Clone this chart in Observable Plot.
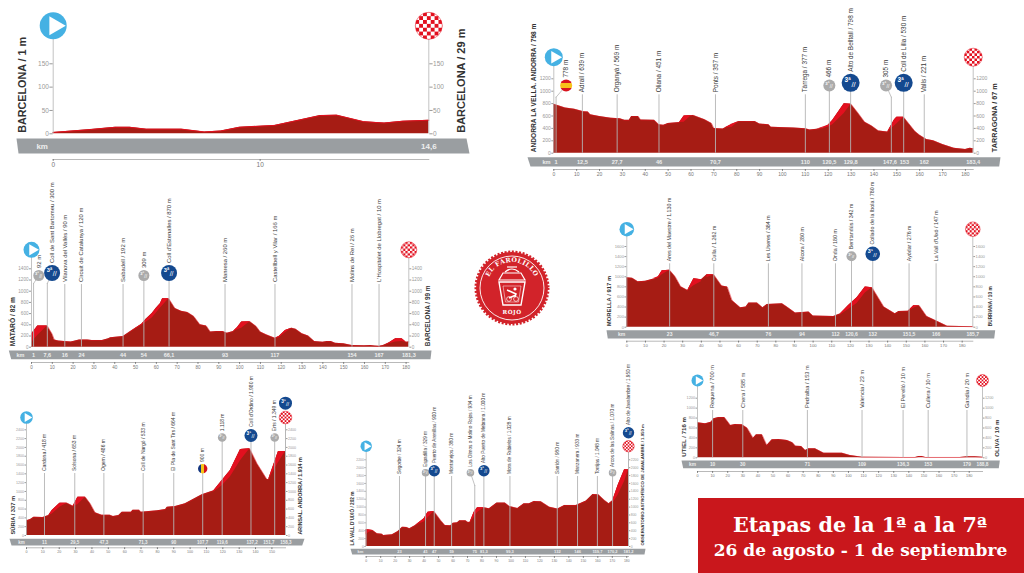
<!DOCTYPE html>
<html lang="es"><head><meta charset="utf-8">
<script src="https://cdn.jsdelivr.net/npm/d3@7"></script>
<script src="https://cdn.jsdelivr.net/npm/@observablehq/plot@0.6"></script>
<style>
html,body{margin:0;padding:0;background:#fff;overflow:hidden}
#page{position:relative;width:1024px;height:573px;overflow:hidden;background:#fff}
#page svg.p{position:absolute}
#banner{position:absolute;left:698px;top:498px;width:326px;height:75px;background:#c9171c;color:#fff;text-align:center;font-family:"DejaVu Serif",serif;font-weight:bold}
#banner .a{position:absolute;left:0;right:2px;top:14px;font-size:20.7px;line-height:26px;white-space:nowrap}
#banner .b{position:absolute;left:0;right:1px;top:41px;font-size:17px;line-height:22px;white-space:nowrap}
</style></head><body>
<svg id="defs" width="0" height="0" style="position:absolute"><defs>
<pattern id="chk" patternUnits="objectBoundingBox" patternContentUnits="objectBoundingBox" width=".2857" height=".2857">
<rect width=".2857" height=".2857" fill="#fff"/><rect width=".143" height=".143" fill="#e2101f"/><rect x=".143" y=".143" width=".143" height=".143" fill="#e2101f"/></pattern>
<linearGradient id="es" x1="0" y1="0" x2="0" y2="1"><stop offset=".27" stop-color="#d8141e"/><stop offset=".27" stop-color="#f7c21a"/><stop offset=".73" stop-color="#f7c21a"/><stop offset=".73" stop-color="#d8141e"/></linearGradient>
<linearGradient id="ad" x1="0" y1="0" x2="1" y2="0"><stop offset=".34" stop-color="#14357f"/><stop offset=".34" stop-color="#f5c518"/><stop offset=".66" stop-color="#f5c518"/><stop offset=".66" stop-color="#d5121e"/></linearGradient>
</defs></svg>
<div id="page">
<div id="banner"><div class="a">Etapas de la 1ª a la 7ª</div><div class="b">26 de agosto - 1 de septiembre</div></div>
</div>
<script>
// ---------- Barcelona - Barcelona
const s1Km=[0,1.8,3,3.7,4.5,6.2,7.3,8.1,9,10.7,12.9,13.7,15,16,16.9,18.15];
const s1Elev=[3,9,14,14,10,10,4,6,14,18,39,40,26,23,27,29];
const s1Climbs=[];
const s1Places=[];
const s1BandKm=[18.15], s1BandText=["14,6"];
const s1XTicks=[0,10], s1YTicks=[0,50,100,150];
// ---------- Andorra - Tarragona
const s2Km=[0,5,9,13,15,16,20,25,29,31,33,34,37,38,44,46,48,50,55,57,61,66,69,70,74,75,79,81,88,90,94,95,105,110,112,115,118,120,122,127,130,133,136,139,142,146,149,150,153,158,160,163,166,170,175,180,182,183.4];
const s2Elev=[790,730,710,670,665,620,590,565,555,530,530,590,590,535,530,460,450,480,495,600,610,540,480,400,390,410,480,510,510,470,460,420,405,395,375,385,410,450,530,796,790,650,500,440,360,340,540,580,580,350,290,220,200,140,80,60,80,70];
const s2Climbs=[[0,55,495,495],[0,57,500,600],[0,60,600,608],[1,75,410,410],[1,78,420,470],[1,81,510,510],[2,115,385,385],[2,120,420,450],[2,122,460,530],[2,127,640,796],[2,130,790,790],[3,146,340,340],[3,149,440,540],[3,150,470,580],[3,153,580,580]];
const s2Places=[[1,"778 m","flag",5.4,"es"],[12.5,"Adrall / 639 m","plain"],[27.7,"Organyà / 569 m","plain"],[46,"Oliana / 451 m","plain"],[70.7,"Ponts / 357 m","plain"],[110,"Tàrrega / 377 m","plain"],[120.5,"466 m","gray"],[129.8,"Alto de Belltall / 798 m","blue"],[147.6,"305 m","gray",145.3],[153,"Coll de Lilla / 530 m","blue"],[162,"Valls / 221 m","plain"]];
const s2BandKm=[1,12.5,27.7,46,70.7,110,120.5,129.8,147,153.3,162,183.4];
const s2BandText=["1","12,5","27,7","46","70,7","110","120,5","129,8","147,6","153","162","183,4"];
const s2XTicks=d3.range(0,181,10), s2YTicks=[0,200,400,600,800,1000,1200];
// ---------- Mataró - Barcelona
const s3Km=[0,3,7.6,10,11,13,16,19,20,23,27,29,34,37,38,44,46,50,53,55,58,60,62,63,66,69,72,75,78,81,84,86,89,92,94,97,99,101,105,108,110,113,117,119,122,125,127,130,133,136,140,142,144,146,150,154,160,163,165,167,169,172,175,178,180,181.3];
const s3Elev=[230,380,380,230,130,110,100,95,100,130,130,120,120,150,170,190,240,340,410,500,600,700,780,865,865,690,640,620,550,400,380,270,280,280,250,280,350,450,455,370,270,220,160,190,300,340,320,240,200,100,90,100,100,70,60,30,25,30,20,15,30,80,150,150,90,95];
const s3Climbs=[[0,0,80,230],[0,3,210,380],[0,7.6,380,380],[1,46,240,240],[1,53,390,410],[1,58,520,600],[1,62,700,780],[1,63,740,865],[1,66,865,865],[2,97,280,280],[2,99,310,350],[2,101,340,450],[2,105,455,455],[3,117,160,160],[3,119,170,190],[3,122,260,300],[3,125,340,340],[4,170,35,35],[4,172,60,80],[4,175,95,150],[4,178,100,150],[4,180,90,90]];
const s3Places=[[1,"92 m","gray",3.5],[7.6,"Coll de Sant Bartomeu / 300 m","blue",9.9],[16,"Vilanova del Vallès / 90 m","plain"],[24,"Circuit de Catalunya / 120 m","plain"],[44,"Sabadell / 192 m","plain"],[54,"309 m","gray"],[66.1,"Coll d'Estenalles / 870 m","blue"],[93,"Manresa / 260 m","plain"],[117,"Castellbell y Vilar / 166 m","plain"],[154,"Molins de Rei / 26 m","plain"],[167,"L'Hospitalet de Llobregat / 10 m","plain"]];
const s3BandKm=[1,7.6,16,24,44,54,66.1,93,117,154,167,181.3];
const s3BandText=["1","7,6","16","24","44","54","66,1","93","117","154","167","181,3"];
const s3XTicks=d3.range(0,181,10), s3YTicks=[0,200,400,600,800,1000,1200,1400];
// ---------- Morella - Burriana
const s4Km=[0,3,6,10,15,17,19,23,26,29,32.7,36,40,43,46.7,51,54,56.5,61,64,65.5,70,73,75.3,83.4,86,90.5,97.7,100,111,114.7,119,123.6,128,131.7,138,144,146,151,154,157,161,165.6,172,185.7];
const s4Elev=[980,970,900,910,960,1000,1120,1130,1000,800,730,960,943,1040,1040,816,797,530,385,400,478,478,385,450,465,400,280,300,220,212,265,430,585,797,784,400,265,312,318,425,425,212,133,20,10];
const s4Climbs=[[0,14,960,960],[0,17,970,1000],[0,19,1040,1120],[0,23,1130,1130],[1,32.7,730,730],[1,36,820,960],[1,40,900,943],[2,43,980,1040],[2,46.7,1040,1040],[3,114.7,240,265],[3,119,350,430],[3,123.6,470,585],[3,128,680,797],[3,131.7,784,784],[4,151,318,318],[4,154,375,425],[4,157,425,425]];
const s4Places=[[23,"Ares del Maestre / 1.130 m","plain"],[46.7,"Culla / 1.262 m","plain"],[76,"Les Useres / 384 m","plain"],[94,"Alcora / 280 m","plain"],[112,"Onda / 180 m","plain"],[120.6,"Benitandús / 342 m","gray"],[132,"Collado de la Ibola / 780 m","blue"],[151.5,"Ayódar / 276 m","plain"],[166,"La Vall d'Uixó / 147 m","plain"]];
const s4BandKm=[23,46.7,76,94,112,120.6,132,151.5,166,185.7];
const s4BandText=["23","46,7","76","94","112","120,6","132","151,5","166","185,7"];
const s4XTicks=d3.range(0,181,10), s4YTicks=[0,200,400,600,800,1000,1200,1400,1600];
// ---------- Súria - Arinsal
const s5Km=[0,2.4,4.5,10,13.6,15.7,20.4,24.8,28.5,31.4,36,39,42,46,51,53,56.4,58.4,64,65,69,70,80,85,86,91,97,107.3,114.5,119.6,124.6,130.8,136.5,141,147,148,154,158.3];
const s5Elev=[333,363,416,409,454,568,734,734,666,870,870,719,515,462,462,431,454,530,530,575,575,530,560,590,643,659,719,924,1014,1249,1476,1953,1968,1628,1272,1272,1908,1908];
const s5Climbs=[[0,13.6,454,454],[0,15.7,490,568],[0,20.4,640,734],[0,24.8,734,734],[1,28.5,666,666],[1,31.4,700,870],[1,36,870,870],[2,114.5,990,1014],[2,119.6,1130,1249],[2,124.6,1330,1476],[2,130.8,1700,1953],[2,136.5,1968,1968],[3,148,1272,1272],[3,154,1650,1908],[3,158.3,1908,1908]];
const s5Places=[[11,"Cardona / 418 m","plain"],[29.5,"Solsona / 653 m","plain"],[47.3,"Ogern / 486 m","plain"],[71.3,"Coll de Nargó / 533 m","plain"],[90,"El Pla de Sant Tirs / 664 m","plain"],[107.7,"900 m","flag",null,"ad"],[119.6,"1.118 m","gray"],[137.2,"Coll d'Ordino / 1.980 m","blue"],[151.7,"Erts / 1.349 m","gray"],[158.3,"","top"]];
const s5BandKm=[11,29.5,47.3,71.3,90,107.7,119.6,137.9,148.2,158.6];
const s5BandText=["11","29,5","47,3","71,3","90","107,7","119,6","137,2","151,7","158,3"];
const s5XTicks=d3.range(0,151,10), s5YTicks=d3.range(0,2401,200);
// ---------- La Vall d'Uixó - Javalambre
const s6Km=[0,4.6,7.6,11,12,18,22,25,28,30,34,40,42.7,46.9,51.5,54.5,58.4,60,63,64.6,68.8,70.4,71.8,74.6,76.9,81.5,85,90.3,96,99,104.6,109,112.7,116,120.8,126.6,132.3,137,145,152,156.6,160.5,164.7,167.7,170.4,174,178.5,181.2];
const s6Elev=[423,406,322,313,280,296,381,491,483,449,533,703,872,889,660,533,525,593,601,652,652,610,618,872,983,983,957,1101,1101,1016,966,1084,1084,1143,1135,999,949,1042,1042,1152,1321,1313,1169,1084,1169,1550,1948,1948];
const s6Climbs=[[0,0,290,423],[0,1.5,350,423],[0,4.6,406,406],[1,34,533,533],[1,40,620,703],[1,42.7,730,872],[1,46.9,889,889],[2,71.8,618,618],[2,74.6,730,872],[2,76.9,860,983],[2,81.5,983,983],[3,170.4,1100,1169],[3,174,1300,1550],[3,178.5,1650,1948],[3,181.2,1948,1948]];
const s6Places=[[23,"Segorbe / 324 m","plain"],[41,"Espadilla / 329 m","gray"],[47,"Puerto de Arenillas / 900 m","blue"],[59,"Montanejos / 380 m","plain"],[75,"Los Olmos o Molino Rojos / 934 m","gray",72],[81.3,"Alto Puerto de Mebrana / 1.000 m","blue"],[99.3,"Mora de Rubielos / 1.028 m","plain"],[132,"Sarrión / 980 m","plain"],[146,"Manzanera / 933 m","plain"],[159.7,"Torrijas / 1.048 m","plain"],[170.2,"Arcos de las Salinas / 1.070 m","gray"],[181.2,"Alto de Javalambre / 1.950 m","top"]];
const s6BandKm=[23,41,47,59,75,81.3,99.3,132,146,159.7,170.2,181.2];
const s6BandText=["23","41","47","59","75","81,3","99,3","132","146","159,7","170,2","181,2"];
const s6XTicks=d3.range(0,181,10), s6YTicks=d3.range(0,2201,200);
// ---------- Utiel - Oliva
const s7Km=[0,5.3,9,10.8,14,17.9,21.9,25,29.6,33,36.9,39,42.8,46,49.4,53.9,59.4,63,65,68.9,71.5,73.7,78,83.7,95.8,101,109,136.6,144.4,146.6,148.8,151,174,178.6,184,188.8];
const s7Elev=[705,684,718,785,812,812,651,671,664,597,396,463,463,248,362,369,349,302,235,228,148,181,181,94,94,47,13,7,7,27,27,7,7,20,20,10];
const s7Climbs=[];
const s7Places=[[10,"Requena / 700 m","plain"],[30,"Chera / 585 m","plain"],[72.8,"Pedralba / 153 m","plain"],[109,"Valencia / 23 m","plain"],[136.2,"El Perelló / 10 m","plain"],[152.8,"Cullera / 10 m","plain"],[178.5,"Gandia / 20 m","plain"]];
const s7BandKm=[10,30,72.8,109,136.2,152.8,178.5,188.8];
const s7BandText=["10","30","71","109","136,3","153","179","188,8"];
const s7XTicks=d3.range(0,181,10), s7YTicks=[0,200,400,600,800,1000,1200];

const NARROW='"Liberation Sans Narrow","Liberation Sans",sans-serif';
const DARK="#a61c14", BRIGHT="#e2101f", GRAY="#9a9ea1", STEM="#b4b4b4", BLUE="#14498f", ICON="#ababab", SKY="#45b1e3";
// font size that gives a side label its length in the picture
const probe=document.createElementNS("http://www.w3.org/2000/svg","text");
probe.setAttribute("font-family",NARROW);probe.setAttribute("font-weight","bold");probe.setAttribute("visibility","hidden");
document.getElementById("defs").appendChild(probe);
function fitSize(text,len){
  probe.textContent=text;
  let s=len/text.length*2;
  for(let i=0;i<8;i++){probe.setAttribute("font-size",s);const w=probe.getComputedTextLength();if(w>0)s*=Math.pow(len/w,.7);}
  return s*1.17;
}

function stage(c){
  const {L,T,R,B,x0,x1,end,y0,yTop,yMax,km,elev,climbs,places,bandKm,bandText,xTicks,yTicks,startName,endName}=c;
  const X=px=>(px-x0)/(x1-x0)*end, Y=px=>(y0-px)/(y0-yTop)*yMax;
  const pxKm=(x1-x0)/end;
  const rows=km.map((k,i)=>({k,e:elev[i]}));
  const patch=climbs.map(([g,k,lo,hi])=>({g,k,lo,hi}));
  const [bTL,bBL,bTR,bBR]=c.bandX;
  const band=[[bTL,c.bandY[0]],[bTR,c.bandY[0]],[bBR,c.bandY[1]],[bBL,c.bandY[1]]].map(([a,b])=>({a:X(a),b:Y(b)}));
  const pl=places.map(([k,name,kind,dotK,flag])=>({k,name,kind,dotK:dotK??k,flag}));
  const st=k=>pl.filter(p=>p.kind===k);
  const cy=p=>p.kind==="gray"?c.grayCy:p.kind==="blue"?c.blueCy:p.kind==="flag"?c.flagCy:p.kind==="top"?c.topCy:null;
  const rad=p=>p.kind==="gray"?c.grayR:p.kind==="blue"||p.kind==="top"?c.blueR:p.kind==="flag"?c.flagR:0;
  const lblBottom=p=>p.kind==="plain"?c.stemTop-2.5:cy(p)-rad(p)-2;
  const stemTopOf=p=>p.kind==="top"?c.iconCy:p.dotK!==p.k?c.stemKnee:(cy(p)??c.stemTop);
  const elbows=pl.filter(p=>p.dotK!==p.k).flatMap(p=>[{p:p.k,x:p.k,y:Y(c.stemKnee)},{p:p.k,x:p.dotK,y:Y(cy(p))}]);
  const fs=c.placeSize, base={fontFamily:NARROW,stroke:"none"};
  const dotsOf=(kinds)=>pl.filter(p=>kinds.includes(p.kind));
  const hills=dotsOf(["gray","blue","top"]);
  const marks=[
    Plot.line(band,{x:"a",y:"b",fill:GRAY,stroke:"none"}),
    Plot.frame({anchor:"bottom",stroke:"#9b9b9b",strokeWidth:.7}),
    Plot.areaY(rows,{x:"k",y:"e",fill:DARK}),
    Plot.areaY(patch,{x:"k",y1:"lo",y2:"hi",z:"g",fill:BRIGHT}),
    Plot.lineY(rows,{x:"k",y:"e",stroke:BRIGHT,strokeWidth:c.rim}),
    Plot.ruleX([0,end],{x:d=>d,y1:0,y2:Y(c.iconCy),stroke:STEM,strokeWidth:.8}),
    Plot.ruleX(pl,{x:"k",y1:0,y2:p=>Y(stemTopOf(p)),stroke:STEM,strokeWidth:.9}),
    Plot.line(elbows,{x:"x",y:"y",z:"p",stroke:STEM,strokeWidth:.8}),
    Plot.dot(st("gray"),{x:"dotK",y:()=>Y(c.grayCy),r:c.grayR,fill:ICON,stroke:"none"}),
    Plot.dot(dotsOf(["blue","top"]),{x:"dotK",y:p=>Y(cy(p)),r:c.blueR,fill:BLUE,stroke:"none"}),
    // small glyph inside each climb badge
    ...hills.flatMap(p=>{const r=rad(p);const yy=Y(cy(p));return [
      Plot.text(["3ª"],{x:()=>p.dotK,y:()=>yy,dx:-r*.34,dy:-r*.3,text:d=>d,fill:"#fff",fontSize:r*.72,fontWeight:"bold",...base}),
      Plot.text(["//"],{x:()=>p.dotK,y:()=>yy,dx:r*.32,dy:r*.16,text:d=>d,fill:"#fff",fontSize:r*.85,...base})];}),
    Plot.dot(st("flag"),{x:"dotK",y:()=>Y(c.flagCy),r:c.flagR,fill:p=>`url(#${p.flag})`,stroke:"none"}),
    Plot.text(pl.filter(p=>p.name),{x:"dotK",y:p=>Y(lblBottom(p)),text:"name",rotate:-90,textAnchor:"start",fontSize:fs,fill:"#3a3a3a",...base}),
    Plot.dot([0],{x:d=>d,y:()=>Y(c.iconCy),r:c.iconR,fill:SKY,stroke:"none"}),
    Plot.dot([0],{x:()=>c.iconR*.12/pxKm,y:()=>Y(c.iconCy),r:c.iconR*.52,symbol:"triangle",rotate:90,fill:"#fff",stroke:"none"}),
    Plot.dot([end],{x:d=>d,y:()=>Y(c.iconCy),r:c.iconR,fill:"url(#chk)",stroke:BRIGHT,strokeWidth:.5}),
    Plot.text([startName],{x:()=>X(c.startLabelX),y:()=>Y(y0-1),text:d=>d,rotate:-90,textAnchor:"start",fontSize:fitSize(startName,c.startLen),fontWeight:"bold",fill:"#333",...base}),
    Plot.text([endName],{x:()=>X(c.endLabelX),y:()=>Y(y0-1),text:d=>d,rotate:-90,textAnchor:"start",fontSize:fitSize(endName,c.endLen),fontWeight:"bold",fill:"#333",...base}),
    Plot.text(["km"],{x:()=>X(c.kmX),y:()=>Y((c.bandY[0]+c.bandY[1])/2),text:d=>d,fontSize:c.bandSize,fontWeight:"bold",fill:"#eee",...base}),
    Plot.text(bandKm,{x:d=>d,y:()=>Y((c.bandY[0]+c.bandY[1])/2),text:(d,i)=>bandText[i],fontSize:c.bandSize,fontWeight:"bold",fill:"#eee",...base}),
    Plot.axisX({anchor:"bottom",ticks:xTicks,tickFormat:d=>String(d),tickSize:1.8,tickPadding:1,fontSize:c.tickFont,color:"#777",label:null,fontFamily:NARROW}),
    Plot.axisY({anchor:"left",ticks:yTicks,tickFormat:d=>String(d),tickSize:c.tickLen,tickPadding:1,fontSize:c.tickFont,color:"#999",label:null,fontFamily:NARROW}),
    Plot.axisY({anchor:"right",ticks:yTicks,tickFormat:d=>String(d),tickSize:c.tickLen,tickPadding:1,fontSize:c.tickFont,color:"#999",label:null,fontFamily:NARROW})
  ];
  const svg=Plot.plot({width:R-L,height:B-T,marginLeft:x0-L,marginRight:R-x1,marginTop:0,marginBottom:B-c.axisY,
    x:{domain:[0,end],axis:null},y:{domain:[0,yMax],range:[y0-T,yTop-T],axis:null},
    style:{background:"transparent",overflow:"visible",position:"absolute",left:L+"px",top:T+"px",fontFamily:NARROW,maxWidth:"none"},marks});
  svg.classList.add("p");
  document.getElementById("page").appendChild(svg);
}
const cfgs=[
 {L:0,T:0,R:480,B:178,x0:52.7,x1:428.3,end:18.15,y0:133.3,yTop:63.3,yMax:150,km:s1Km,elev:s1Elev,climbs:s1Climbs,places:s1Places,bandKm:s1BandKm,bandText:s1BandText,xTicks:s1XTicks,yTicks:s1YTicks,startName:"BARCELONA / 1 m",endName:"BARCELONA / 29 m",startLen:82,endLen:89,
  bandX:[16,18,466,469],bandY:[138,153],axisY:159,iconCy:25.3,iconR:13.5,stemTop:38,grayCy:0,grayR:0,blueCy:0,blueR:0,placeSize:6,bandSize:8,tickFont:6.5,tickLen:3.3,rim:1,startLabelX:22,endLabelX:461,kmX:41.7},
 {L:520,T:0,R:1024,B:182,x0:553.3,x1:972.7,end:183.4,y0:152.7,yTop:78.3,yMax:1200,km:s2Km,elev:s2Elev,climbs:s2Climbs,places:s2Places,bandKm:s2BandKm,bandText:s2BandText,xTicks:s2XTicks,yTicks:s2YTicks,startName:"ANDORRA LA VELLA. ANDORRA / 798 m",endName:"TARRAGONA / 67 m",startLen:110,endLen:59,
  bandX:[527,530,1000,998.7],bandY:[156.7,166],axisY:169,iconCy:56.7,iconR:9,stemTop:94.3,stemKnee:96.7,grayCy:85,grayR:6,blueCy:82.3,blueR:9,flagCy:85,flagR:6,placeSize:6.4,bandSize:5.6,tickFont:5,tickLen:2,rim:.5,startLabelX:533.3,endLabelX:994,kmX:546},
 {L:0,T:180,R:436,B:372,x0:31,x1:408.3,end:181.3,y0:346.7,yTop:268.3,yMax:1400,km:s3Km,elev:s3Elev,climbs:s3Climbs,places:s3Places,bandKm:s3BandKm,bandText:s3BandText,xTicks:s3XTicks,yTicks:s3YTicks,startName:"MATARÓ / 82 m",endName:"BARCELONA / 99 m",startLen:42,endLen:52,
  bandX:[8.3,10.7,431,430],bandY:[350,358.7],axisY:362,iconCy:249.3,iconR:8,stemTop:284,stemKnee:283,grayCy:275,grayR:5.5,blueCy:272.5,blueR:8,placeSize:5.9,bandSize:5.5,tickFont:4.6,tickLen:2,rim:.5,startLabelX:12.7,endLabelX:427.7,kmX:20},
 {L:600,T:180,R:1024,B:350,x0:626.3,x1:972.3,end:185.7,y0:326.7,yTop:246,yMax:1600,km:s4Km,elev:s4Elev,climbs:s4Climbs,places:s4Places,bandKm:s4BandKm,bandText:s4BandText,xTicks:s4XTicks,yTicks:s4YTicks,startName:"MORELLA / 917 m",endName:"BURRIANA / 10 m",startLen:43,endLen:34,
  bandX:[606,607.3,994.7,993.7],bandY:[329.7,338],axisY:340.7,iconCy:228.7,iconR:7.3,stemTop:263.3,grayCy:255.7,grayR:5,blueCy:253.3,blueR:7.3,placeSize:5.3,bandSize:5,tickFont:4.2,tickLen:1.8,rim:.5,startLabelX:609,endLabelX:990,kmX:621},
 {L:0,T:375,R:320,B:556,x0:26,x1:285,end:158.3,y0:535,yTop:429.3,yMax:2400,km:s5Km,elev:s5Elev,climbs:s5Climbs,places:s5Places,bandKm:s5BandKm,bandText:s5BandText,xTicks:s5XTicks,yTicks:s5YTicks,startName:"SÚRIA / 337 m",endName:"ARINSAL. ANDORRA / 1.914 m",startLen:33,endLen:66,
  bandX:[9,11,304,301.7],bandY:[538.3,545],axisY:547.3,iconCy:417,iconR:6.3,stemTop:473,grayCy:437,grayR:4.3,blueCy:435,blueR:6.5,flagCy:468.3,flagR:4.7,topCy:402.7,placeSize:5,bandSize:4.5,tickFont:3.6,tickLen:1.5,rim:.5,startLabelX:12.3,endLabelX:300,kmX:21},
 {L:340,T:370,R:650,B:566,x0:365.7,x1:628,end:181.2,y0:546,yTop:459.3,yMax:2200,km:s6Km,elev:s6Elev,climbs:s6Climbs,places:s6Places,bandKm:s6BandKm,bandText:s6BandText,xTicks:s6XTicks,yTicks:s6YTicks,startName:"LA VALL D'UIXÓ / 202 m",endName:"OBSERVATORIO ASTROFÍSICO DE JAVALAMBRE / 1.950 m",startLen:46,endLen:104,
  bandX:[350,351.7,645,644],bandY:[548.3,554],axisY:556,iconCy:445.7,iconR:5.7,stemTop:476,stemKnee:485,grayCy:472.3,grayR:3.8,blueCy:470.3,blueR:5.7,topCy:432.3,placeSize:4.7,bandSize:4,tickFont:3.4,tickLen:1.3,rim:.5,startLabelX:352,endLabelX:641.7,kmX:360},
 {L:670,T:365,R:1024,B:482,x0:697,x1:982,end:188.8,y0:457.3,yTop:397.7,yMax:1200,km:s7Km,elev:s7Elev,climbs:s7Climbs,places:s7Places,bandKm:s7BandKm,bandText:s7BandText,xTicks:s7XTicks,yTicks:s7YTicks,startName:"UTIEL / 716 m",endName:"OLIVA / 10 m",startLen:34,endLen:32,
  bandX:[681,682.7,999.3,998.3],bandY:[460,467.7],axisY:471,iconCy:380,iconR:6,stemTop:410,placeSize:5.6,bandSize:4.8,tickFont:3.8,tickLen:1.5,rim:.5,startLabelX:684,endLabelX:996.7,kmX:692}
];
cfgs.forEach(stage);
probe.remove();

// ---------- Badge
const page=document.getElementById("page");
const badge=document.createElementNS("http://www.w3.org/2000/svg","svg");
badge.setAttribute("class","p");badge.setAttribute("width",90);badge.setAttribute("height",90);
badge.style.left="467px";badge.style.top="243px";
badge.innerHTML=`<g transform="translate(45,45)">
<circle r="36" fill="none" stroke="#d2232a" stroke-width="3" stroke-dasharray="2 1.6"/>
<circle r="36" fill="#d2232a"/>
<circle r="32" fill="none" stroke="#fff" stroke-width=".9"/>
<defs><path id="arc" d="M-24 6A25 25 0 1 1 24 6"/></defs>
<text font-family="DejaVu Serif" font-size="6.3" font-weight="bold" fill="#fff" letter-spacing=".4" text-anchor="middle"><textPath href="#arc" startOffset="50%">EL FAROLILLO</textPath></text>
<text y="26" font-family="DejaVu Serif" font-size="5.6" font-weight="bold" fill="#fff" text-anchor="middle" letter-spacing=".5">ROJO</text>
<g fill="none" stroke="#fff"><path d="M-5 -21H5" stroke-width="1.2"/><path d="M-7 -16Q0 -22 7 -16" stroke-width="1.2"/><path d="M-9 -15H9L13 -8H-13Z" stroke-width="1.2"/><path d="M-13 -6H13L9 17H-9Z" stroke-width="1.4"/><path d="M-9 -2H9L6.5 14H-6.5Z" stroke-width=".5"/><path d="M-5 2L4 6L3 9M-3 10L4 7" stroke-width="1.5"/></g>
<circle cx="3" cy="1" r="1.6" fill="#fff"/><circle cx="-3" cy="11" r="2.4" fill="none" stroke="#fff" stroke-width=".7"/><circle cx="4" cy="11" r="2.4" fill="none" stroke="#fff" stroke-width=".7"/></g>`;
page.appendChild(badge);
</script></body></html>
